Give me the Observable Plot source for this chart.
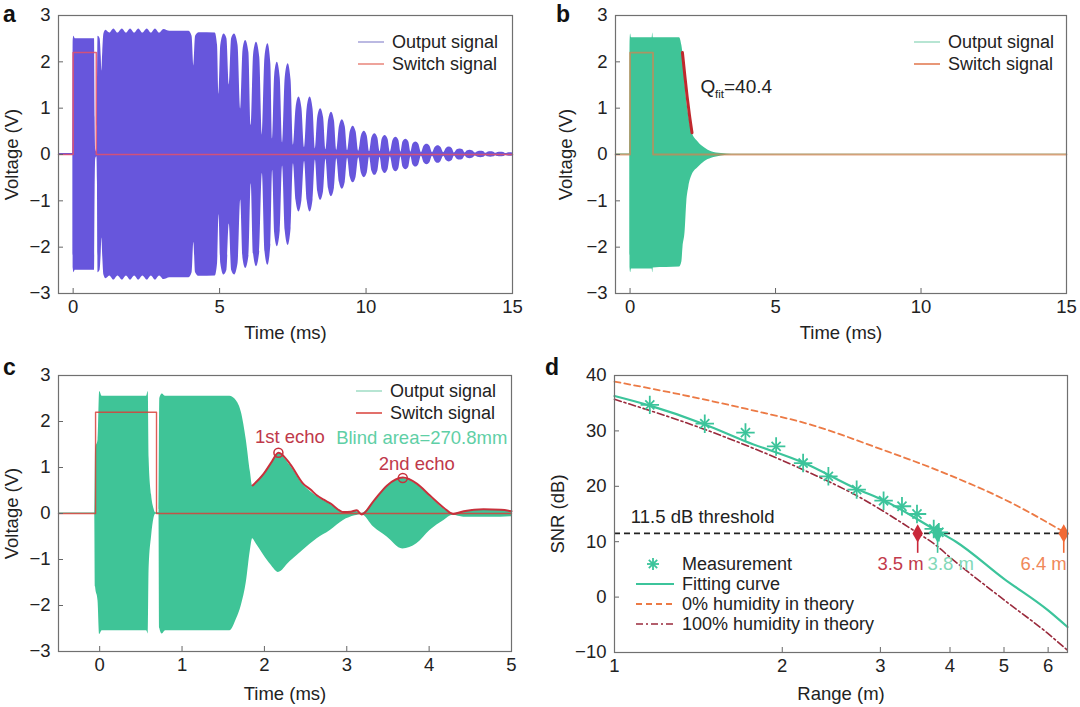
<!DOCTYPE html>
<html><head><meta charset="utf-8">
<script src="https://cdn.jsdelivr.net/npm/d3@7"></script>
<script src="https://cdn.jsdelivr.net/npm/@observablehq/plot@0.6"></script>
<style>
body{margin:0;background:#fff;font-family:"Liberation Sans",Arial,Helvetica,sans-serif;}
#fig{position:relative;width:1080px;height:707px;overflow:hidden;background:#fff;}
.plab{position:absolute;font-weight:bold;font-size:23px;color:#111;line-height:26px;}
.leg{position:absolute;font-size:18px;color:#222;white-space:nowrap;line-height:22px;height:22px;display:flex;align-items:center;}
.leg svg{display:block;margin-right:8px;}
</style></head><body><div id="fig"></div>
<script>
// ---------- DATA ----------
// Panel a: output-signal envelope (time ms, amplitude V), switch signal
const envA = [[-0.5,0.02],[-0.01,0.02],[0.0,2.45],[0.03,2.55],[0.07,2.5],[0.73,2.5],[0.75,0.8],[0.77,0.1],[0.81,0.05],[0.83,0.6],[0.85,2.55],[0.92,2.5],[0.96,2.1],[0.98,1.8],[1.01,2.2],[1.05,2.6],[1.12,2.68],[1.25,2.62],[1.39,2.71],[1.53,2.62],[1.68,2.71],[1.82,2.62],[1.96,2.71],[2.10,2.62],[2.24,2.71],[2.38,2.62],[2.53,2.71],[2.67,2.62],[2.81,2.71],[2.95,2.62],[3.10,2.70],[3.3,2.66],[3.95,2.66],[4.06,2.55],[4.12,1.9],[4.18,2.55],[4.3,2.63],[4.85,2.62],[4.93,2.35],[4.98,1.3],[5.04,2.35],[5.15,2.6],[5.25,2.5],[5.33,1.5],[5.41,2.5],[5.51,2.6],[5.63,2.35],[5.72,0.98],[5.80,2.25],[5.89,2.46],[6.0,2.2],[6.08,0.63],[6.16,2.15],[6.26,2.42],[6.37,2.1],[6.46,0.41],[6.55,2.1],[6.65,2.39],[6.75,1.95],[6.81,0.34],[6.88,1.7],[6.97,1.99],[7.07,1.65],[7.15,0.25],[7.24,1.65],[7.34,1.96],[7.44,1.6],[7.52,0.2],[7.61,1.0],[7.71,1.24],[7.81,1.0],[7.90,0.15],[7.99,1.0],[8.09,1.24],[8.19,0.98],[8.27,0.12],[8.35,0.8],[8.45,0.99],[8.55,0.8],[8.63,0.1],[8.72,0.74],[8.82,0.91],[8.92,0.73],[9.0,0.09],[9.09,0.6],[9.19,0.75],[9.29,0.6],[9.37,0.08],[9.46,0.49],[9.56,0.61],[9.66,0.49],[9.75,0.07],[9.84,0.4],[9.94,0.5],[10.04,0.4],[10.12,0.06],[10.2,0.36],[10.30,0.45],[10.4,0.36],[10.48,0.06],[10.55,0.33],[10.65,0.41],[10.75,0.33],[10.83,0.05],[10.92,0.3],[11.02,0.37],[11.12,0.3],[11.19,0.05],[11.26,0.27],[11.36,0.33],[11.46,0.27],[11.53,0.05],[11.6,0.22],[11.70,0.27],[11.8,0.22],[11.89,0.04],[11.98,0.18],[12.08,0.22],[12.18,0.18],[12.27,0.04],[12.36,0.15],[12.46,0.19],[12.56,0.15],[12.65,0.04],[12.74,0.13],[12.84,0.16],[12.94,0.13],[13.02,0.03],[13.11,0.1],[13.21,0.12],[13.31,0.1],[13.38,0.03],[13.45,0.075],[13.55,0.09],[13.65,0.075],[13.73,0.03],[13.82,0.06],[13.92,0.07],[14.02,0.06],[14.09,0.025],[14.16,0.05],[14.26,0.06],[14.36,0.05],[14.43,0.025],[14.5,0.045],[14.6,0.05],[14.7,0.045],[14.77,0.02],[14.84,0.035],[14.94,0.04],[15,0.035]];
const switchA = [[-0.5,0],[0,0],[0,2.2],[0.79,2.2],[0.79,0],[15,0]];

// Panel b: (time, upper, lower) envelope, switch, Q fit segment
const envB = [[-0.5,0.01,-0.01],[-0.01,0.01,-0.01],[0.0,2.4,-2.45],[0.02,2.6,-2.55],[0.05,2.52,-2.47],[0.76,2.52,-2.47],[0.78,2.62,-2.55],[0.80,2.52,-2.45],[1.70,2.52,-2.43],[1.78,2.35,-2.32],[1.82,2.17,-2.0],[1.89,1.56,-1.68],[1.95,1.15,-1.03],[2.02,0.84,-0.7],[2.13,0.48,-0.45],[2.34,0.27,-0.28],[2.57,0.14,-0.15],[2.8,0.06,-0.08],[3.14,0.02,-0.03],[3.5,0.006,-0.01],[15,0.004,-0.004]];
const switchB = [[-0.5,0],[0,0],[0,2.2],[0.79,2.2],[0.79,0],[15,0]];
const fitB = [[1.80,2.2],[1.88,1.72],[1.96,1.26],[2.04,0.86],[2.13,0.47]];
const qLabel = [{t: 2.42, v: 1.45, main: "Q", sub: "fit", rest: "=40.4"}];

// Panel c: (time, upper, lower) envelope, switch, echo envelope, echo peaks
const envC = [[-0.5,0.012,-0.012],[-0.06,0.012,-0.012],[-0.05,1.4,-1.6],[-0.02,1.6,-1.9],[0.0,2.65,-2.63],[0.03,2.55,-2.55],[0.57,2.55,-2.55],[0.59,2.65,-2.62],[0.60,1.2,-1.2],[0.63,0.4,-0.5],[0.66,0.1,-0.1],[0.68,0.015,-0.015],[0.72,0.015,-0.015],[0.73,2.5,-2.5],[0.76,2.6,-2.62],[0.8,2.55,-2.55],[1.58,2.55,-2.55],[1.66,2.45,-2.3],[1.72,2.2,-2.0],[1.78,1.6,-1.5],[1.83,0.9,-0.8],[1.857,0.6,-0.55],[1.9,0.68,-0.66],[1.99,0.85,-0.9],[2.08,1.08,-1.12],[2.17,1.3,-1.28],[2.31,1.05,-1.05],[2.47,0.63,-0.8],[2.64,0.37,-0.55],[2.80,0.2,-0.37],[2.96,0.03,-0.15],[3.1,0.05,-0.05],[3.18,0.0,-0.02],[3.33,0.26,-0.3],[3.49,0.6,-0.51],[3.68,0.76,-0.77],[3.85,0.63,-0.66],[4.01,0.37,-0.37],[4.18,0.1,-0.15],[4.29,0.0,-0.04],[4.42,0.04,-0.08],[4.66,0.08,-0.08],[4.87,0.07,-0.08],[5.0,0.04,-0.07]];
const switchC = [[-0.5,0],[-0.05,0],[-0.05,2.2],[0.69,2.2],[0.69,0],[5,0]];
const echoC = [[1.857,0.61],[1.99,0.86],[2.08,1.10],[2.17,1.32],[2.31,1.08],[2.47,0.65],[2.56,0.52],[2.64,0.39],[2.72,0.3],[2.80,0.22],[2.96,0.03],[3.05,0.04],[3.12,0.07],[3.18,-0.02],[3.33,0.28],[3.49,0.61],[3.68,0.78],[3.85,0.65],[4.01,0.39],[4.18,0.12],[4.29,-0.01],[4.42,0.05],[4.66,0.09],[4.87,0.08],[5.0,0.05]];
const echoPeaks = [[2.17,1.32],[3.68,0.77]];
const echoNotes = [{t: 2.31, v: 1.66, text: "1st echo"}, {t: 3.85, v: 1.08, text: "2nd echo"}];
const blindNote = [{t: 4.95, v: 1.63, text: "Blind area=270.8mm"}];

// Panel d: SNR vs range
const measRange = [1.157,1.452,1.718,1.95,2.18,2.42,2.72,3.04,3.28,3.49,3.74,3.82];
const measSnr   = [34.7,31.3,29.7,27.2,24.2,21.8,19.4,17.4,16.4,15.0,12.3,11.7];
const fitRange  = [1.0,1.154,1.449,1.72,2.19,2.71,3.05,3.77,4.1,5.0,6.0,6.5];
const fitSnr    = [36.3,34.6,31.2,28.1,24.2,19.6,17.4,12.1,10.0,3.3,-2.4,-5.4];
const dryRange  = [1.0,1.31,1.72,2.27,2.99,3.93,5.18,6.32,6.5];
const drySnr    = [38.9,36.6,34.0,31.0,26.8,22.3,16.9,12.1,11.4];
const wetRange  = [1.0,1.44,2.19,2.71,3.47,3.77,4.0,5.0,6.0,6.5];
const wetSnr    = [35.7,30.4,22.9,18.4,11.8,9.4,7.2,-0.5,-6.6,-9.6];
const threshold = 11.5;
const limitRange = [3.5,3.8,6.4];
const limitLabels = ["3.5 m","3.8 m","6.4 m"];
const limitColors = ["#c9283a","#3cc49b","#f26a35"];
const limitText = ["#c23a4c","#82d8b8","#f0885a"];

const legendABC = ["Output signal","Switch signal"];
const legendD = ["Measurement","Fitting curve","0% humidity in theory","100% humidity in theory"];

// ---------- STYLE ----------
const FONT = '"Liberation Sans", Arial, Helvetica, sans-serif';
const PURPLE = "#6756dc", GREEN = "#3fc497";
const fmt = d => (d < 0 ? "\u2212" + Math.abs(d) : String(d));
const fig = document.getElementById("fig");
function place(node, left, top) {
  node.style.position = "absolute";
  node.style.left = left + "px";
  node.style.top = top + "px";
  fig.appendChild(node);
}
function axes({xTicks, yTicks, xLabel, yLabel, fw, fh, xOff, yOff}) {
  return [
    Plot.tickX(xTicks, {x: d => d, insetTop: fh - 5, stroke: "#666"}),
    Plot.tickY(yTicks, {y: d => d, insetRight: fw - 5, stroke: "#666"}),
    Plot.axisX(xTicks, {tickSize: 0, tickPadding: 6, tickFormat: fmt, label: xLabel, labelAnchor: "center", labelOffset: xOff, labelArrow: "none"}),
    Plot.axisY(yTicks, {tickSize: 0, tickPadding: 8, tickFormat: fmt, label: yLabel, labelAnchor: "center", labelOffset: yOff, labelArrow: "none"}),
    Plot.frame({stroke: "#707070", strokeWidth: 1.2})
  ];
}
const baseStyle = {fontFamily: FONT, fontSize: "18.5px", color: "#222", background: "transparent", overflow: "visible"};
const tick3 = [-3,-2,-1,0,1,2,3];

// ---------- PANEL A ----------
{
  const m = {top: 15, left: 58, right: 28, bottom: 52}, w = 540, h = 345;
  const svg = Plot.plot({
    width: w, height: h, marginTop: m.top, marginLeft: m.left, marginRight: m.right, marginBottom: m.bottom,
    style: baseStyle,
    x: {domain: [-0.5, 15]}, y: {domain: [-3, 3]},
    marks: [
      Plot.areaY(envA, {x: d => d[0], y1: d => -d[1], y2: d => d[1], fill: PURPLE, curve: "monotone-x"}),
      Plot.line(switchA, {x: d => d[0], y: d => d[1], stroke: "#e4506a", strokeOpacity: 0.85, strokeWidth: 1.6}),
      ...axes({xTicks: [0,5,10,15], yTicks: tick3, xLabel: "Time (ms)", yLabel: "Voltage (V)", fw: w-m.left-m.right, fh: h-m.top-m.bottom, xOff: 45, yOff: 54})
    ]
  });
  place(svg, 0, 0);
}
// ---------- PANEL B ----------
{
  const m = {top: 15, left: 75, right: 14, bottom: 52}, w = 540, h = 345;
  const svg = Plot.plot({
    width: w, height: h, marginTop: m.top, marginLeft: m.left, marginRight: m.right, marginBottom: m.bottom,
    style: baseStyle,
    x: {domain: [-0.5, 15]}, y: {domain: [-3, 3]},
    marks: [
      Plot.areaY(envB, {x: d => d[0], y1: d => d[2], y2: d => d[1], fill: GREEN, curve: "monotone-x"}),
      Plot.line(switchB, {x: d => d[0], y: d => d[1], stroke: "#d9824f", strokeOpacity: 0.7, strokeWidth: 1.8}),
      Plot.line(fitB, {x: d => d[0], y: d => d[1], stroke: "#c0282d", strokeWidth: 3, curve: "monotone-x"}),
      Plot.text(qLabel, {x: "t", y: "v", text: "main", textAnchor: "start", fill: "#222", fontSize: 19}),
      Plot.text(qLabel, {x: "t", y: "v", text: "sub", textAnchor: "start", fill: "#222", fontSize: 11.5, dx: 14.5, dy: 7}),
      Plot.text(qLabel, {x: "t", y: "v", text: "rest", textAnchor: "start", fill: "#222", fontSize: 19, dx: 23.5}),
      ...axes({xTicks: [0,5,10,15], yTicks: tick3, xLabel: "Time (ms)", yLabel: "Voltage (V)", fw: w-m.left-m.right, fh: h-m.top-m.bottom, xOff: 45, yOff: 57})
    ]
  });
  place(svg, 540, 0);
}
// ---------- PANEL C ----------
{
  const m = {top: 25, left: 58, right: 29, bottom: 56}, w = 540, h = 357;
  const svg = Plot.plot({
    width: w, height: h, marginTop: m.top, marginLeft: m.left, marginRight: m.right, marginBottom: m.bottom,
    style: baseStyle,
    x: {domain: [-0.5, 5]}, y: {domain: [-3, 3]},
    marks: [
      Plot.areaY(envC, {x: d => d[0], y1: d => d[2], y2: d => d[1], fill: GREEN, curve: "monotone-x"}),
      Plot.line(switchC, {x: d => d[0], y: d => d[1], stroke: "#d8413a", strokeOpacity: 0.85, strokeWidth: 1.4}),
      Plot.line(echoC, {x: d => d[0], y: d => d[1], stroke: "#c8313c", strokeWidth: 2, curve: "monotone-x"}),
      Plot.dot(echoPeaks, {x: d => d[0], y: d => d[1], r: 4.5, stroke: "#c8313c", strokeWidth: 1.5, fill: "none"}),
      Plot.text(echoNotes, {x: "t", y: "v", text: "text", fill: "#c0394a", fontSize: 18.5}),
      Plot.text(blindNote, {x: "t", y: "v", text: "text", textAnchor: "end", fill: "#5fcfa6", fontSize: 18.5}),
      ...axes({xTicks: [0,1,2,3,4,5], yTicks: tick3, xLabel: "Time (ms)", yLabel: "Voltage (V)", fw: w-m.left-m.right, fh: h-m.top-m.bottom, xOff: 48, yOff: 54})
    ]
  });
  place(svg, 0, 350);
}
// ---------- PANEL D ----------
{
  const m = {top: 25, left: 74, right: 13, bottom: 55}, w = 540, h = 357;
  const meas = measRange.map((r, i) => ({r, s: measSnr[i]}));
  const fit = fitRange.map((r, i) => ({r, s: fitSnr[i]}));
  const dry = dryRange.map((r, i) => ({r, s: drySnr[i]}));
  const wet = wetRange.map((r, i) => ({r, s: wetSnr[i]}));
  const lim = limitRange.map((r, i) => ({r, s: threshold, label: limitLabels[i], color: limitColors[i], tcolor: limitText[i]}));
  const svg = Plot.plot({
    width: w, height: h, marginTop: m.top, marginLeft: m.left, marginRight: m.right, marginBottom: m.bottom,
    style: baseStyle,
    x: {type: "log", domain: [1, 6.5]}, y: {domain: [-10, 40]},
    marks: [
      Plot.ruleY([threshold], {stroke: "#222", strokeWidth: 1.6, strokeDasharray: "6,4"}),
      Plot.line(dry, {x: "r", y: "s", stroke: "#ec7a45", strokeWidth: 1.8, strokeDasharray: "6,4", curve: "monotone-x"}),
      Plot.line(wet, {x: "r", y: "s", stroke: "#9a2a3c", strokeWidth: 1.6, strokeDasharray: "7,3,2,3", curve: "monotone-x"}),
      Plot.line(fit, {x: "r", y: "s", stroke: "#3cc49b", strokeWidth: 2.2, curve: "monotone-x"}),
      Plot.dot(meas, {x: "r", y: "s", symbol: "plus", r: 6, stroke: "#3cc49b", strokeWidth: 1.8}),
      Plot.dot(meas, {x: "r", y: "s", symbol: "times", r: 4.2, stroke: "#3cc49b", strokeWidth: 1.8}),
      Plot.ruleX(lim, {x: "r", y1: threshold, y2: 7.9, stroke: "color", strokeWidth: 1.6}),
      Plot.dot(lim, {x: "r", y: "s", symbol: "diamond", r: 5.5, fill: "color"}),
      Plot.text(lim.filter((d, i) => i === 0), {x: "r", y: 5.9, text: "label", fill: "tcolor", textAnchor: "end", dx: 6, fontSize: 18.5}),
      Plot.text(lim.filter((d, i) => i === 1), {x: "r", y: 5.9, text: "label", fill: "tcolor", textAnchor: "start", dx: -10, fontSize: 18.5}),
      Plot.text(lim.filter((d, i) => i === 2), {x: "r", y: 5.9, text: "label", fill: "tcolor", textAnchor: "end", dx: 3, fontSize: 18.5}),
      Plot.text(["11.5 dB threshold"], {x: 1.07, y: 14.4, text: d => d, textAnchor: "start", fill: "#222", fontSize: 18.5}),
      ...axes({xTicks: [1,2,3,4,5,6], yTicks: [-10,0,10,20,30,40], xLabel: "Range (m)", yLabel: "SNR (dB)", fw: w-m.left-m.right, fh: h-m.top-m.bottom, xOff: 47, yOff: 64})
    ]
  });
  place(svg, 540, 350);
}

// ---------- LEGENDS (HTML) ----------
function lineSample(color, width, dash, opacity) {
  return `<svg width="26" height="22"><line x1="0" x2="26" y1="11" y2="11" stroke="${color}" stroke-width="${width}" stroke-opacity="${opacity ?? 1}" ${dash ? `stroke-dasharray="${dash}"` : ""}/></svg>`;
}
function addLegendRow(html, text, left, cy) {
  const div = document.createElement("div");
  div.className = "leg";
  div.innerHTML = html + `<span>${text}</span>`;
  div.style.left = left + "px";
  div.style.top = (cy - 11) + "px";
  fig.appendChild(div);
}
addLegendRow(lineSample("#a4a2d8", 1.5), legendABC[0], 358, 42);
addLegendRow(lineSample("#e8857a", 1.5), legendABC[1], 358, 64);
addLegendRow(lineSample("#9fdcc4", 1.5), legendABC[0], 914, 42);
addLegendRow(lineSample("#e0744a", 1.5), legendABC[1], 914, 64);
addLegendRow(lineSample("#9fdcc4", 1.5), legendABC[0], 356, 391);
addLegendRow(lineSample("#d8413a", 1.5), legendABC[1], 356, 413);
function dSample(kind) {
  if (kind === 0) {
    return `<svg width="38" height="22"><g stroke="#3cc49b" stroke-width="1.8"><line x1="17" x2="17" y1="5" y2="17"/><line x1="11" x2="23" y1="11" y2="11"/><line x1="12.8" x2="21.2" y1="6.8" y2="15.2"/><line x1="12.8" x2="21.2" y1="15.2" y2="6.8"/></g></svg>`;
  }
  const st = [null, ["#3cc49b", 2.2, ""], ["#ec7a45", 1.8, "6,4"], ["#9a2a3c", 1.6, "7,3,2,3"]][kind];
  return `<svg width="38" height="22"><line x1="0" x2="38" y1="11" y2="11" stroke="${st[0]}" stroke-width="${st[1]}" ${st[2] ? `stroke-dasharray="${st[2]}"` : ""}/></svg>`;
}
[564, 583.5, 603.5, 623.5].forEach((cy, i) => addLegendRow(dSample(i), legendD[i], 636, cy));

// ---------- PANEL LETTERS ----------
[["a", 3, 1], ["b", 556, 1], ["c", 3, 354], ["d", 545, 354]].forEach(([t, x, y]) => {
  const d = document.createElement("div");
  d.className = "plab"; d.textContent = t; d.style.left = x + "px"; d.style.top = y + "px";
  fig.appendChild(d);
});
</script></body></html>
